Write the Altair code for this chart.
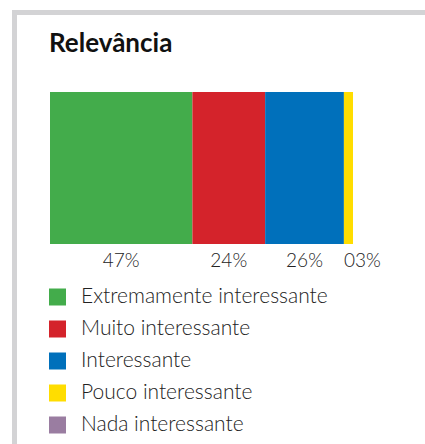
import altair as alt
import pandas as pd

categories = ["Extremamente interessante", "Muito interessante", "Interessante",
              "Pouco interessante", "Nada interessante"]
values = [47, 24, 26, 3, 0]
labels = ["47%", "24%", "26%", "03%", ""]
colors = ["#43AC4B", "#D4232B", "#0070BB", "#FFDD00", "#9A7DA1"]
title_text = "Relevância"

df = pd.DataFrame({"cat": categories, "value": values, "label": labels})
df["end"] = df["value"].cumsum()
df["start"] = df["end"] - df["value"]
df["mid"] = (df["start"] + df["end"]) / 2

FONT = "Lato"
xs = alt.Scale(domain=[0, 100], range=[50, 353])
cs = alt.Scale(domain=categories, range=colors)
ys = alt.Scale(type="point", domain=categories, range=[297, 425], padding=0)

base = alt.Chart(df)

frame = base.mark_rect(filled=False, stroke="#D3D3D5", strokeWidth=5).encode(
    x=alt.value(14.5), x2=alt.value(460), y=alt.value(12.5), y2=alt.value(480)
).transform_filter(alt.datum.cat == categories[0])

title = base.mark_text(font=FONT, fontWeight="bold", fontSize=26, color="#111",
                       align="left", baseline="alphabetic").encode(
    x=alt.value(49), y=alt.value(52), text=alt.value(title_text)
).transform_filter(alt.datum.cat == categories[0])

bars = base.mark_rect().encode(
    x=alt.X("start:Q", scale=xs, axis=None),
    x2="end:Q",
    y=alt.value(92), y2=alt.value(244),
    color=alt.Color("cat:N", scale=cs, legend=None),
).transform_filter(alt.datum.value > 0)

lab_center = base.mark_text(font=FONT, fontWeight=300, fontSize=19, color="#222",
                            align="center", baseline="alphabetic").encode(
    x=alt.X("mid:Q", scale=xs), y=alt.value(267), text="label:N"
).transform_filter(alt.datum.value >= 5)

lab_left = base.mark_text(font=FONT, fontWeight=300, fontSize=19, color="#222",
                          align="left", baseline="alphabetic").encode(
    x=alt.X("start:Q", scale=xs), y=alt.value(267), text="label:N"
).transform_filter((alt.datum.value > 0) & (alt.datum.value < 5))

leg_sym = base.mark_square(size=289, opacity=1).encode(
    x=alt.value(57.5),
    y=alt.Y("cat:N", scale=ys, axis=None),
    color=alt.Color("cat:N", scale=cs, legend=None),
)

leg_txt = base.mark_text(font=FONT, fontWeight=300, fontSize=21, color="#222",
                         align="left", baseline="middle").encode(
    x=alt.value(81),
    y=alt.Y("cat:N", scale=ys, axis=None),
    text="cat:N",
)

chart = alt.layer(frame, title, bars, lab_center, lab_left, leg_sym, leg_txt).properties(
    width=425, height=444,
    autosize=alt.AutoSizeParams(type="none"),
    padding=0,
    background="white",
).configure_view(stroke=None)

chart.save("out.html", embed_options={"renderer": "svg", "actions": False})
